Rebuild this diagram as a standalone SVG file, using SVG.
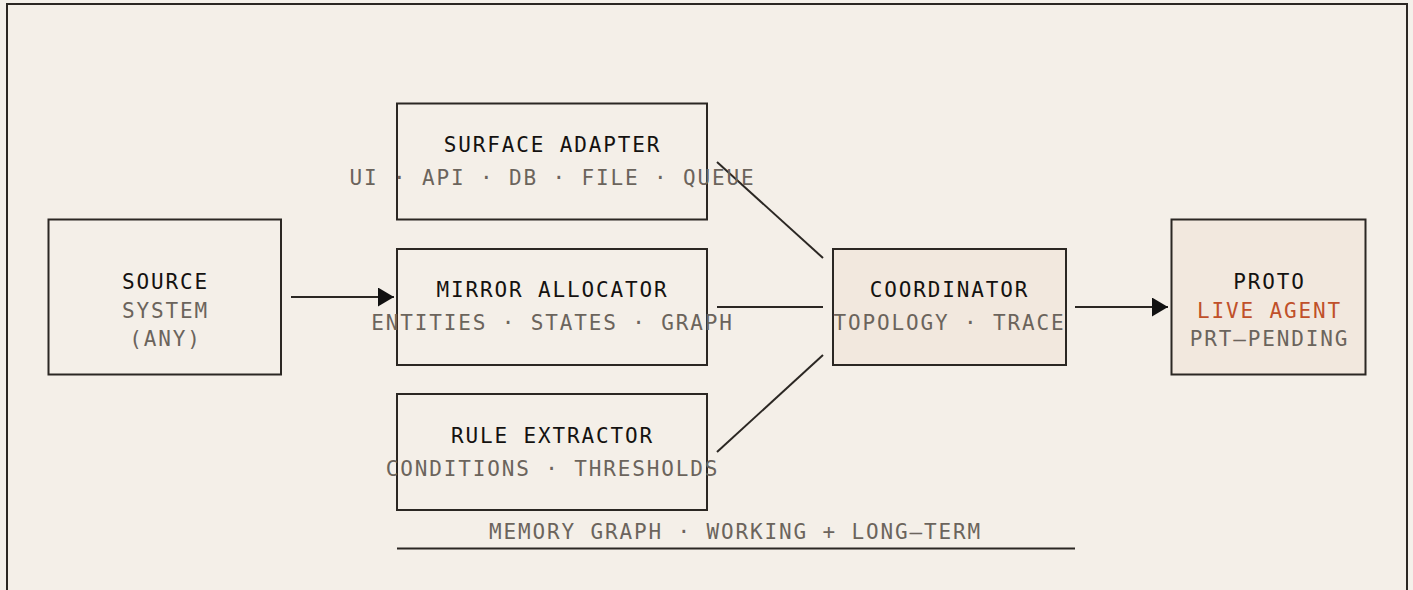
<svg xmlns="http://www.w3.org/2000/svg" width="1413" height="590" viewBox="0 0 1413 590">
<defs>
<style>
.box{fill:none;stroke:#2b2723;stroke-width:2}
.hl{fill:#f2e8de;stroke:#2b2723;stroke-width:2}
text{font-family:"DejaVu Sans Mono",monospace;font-size:21px;letter-spacing:1.85px;text-anchor:middle}
.t{fill:#141210}
.s{fill:#6b645c}
.o{fill:#c0502a}
.c{stroke:#2b2723;stroke-width:2;fill:none}
</style>
<marker id="ah" markerWidth="16" markerHeight="19" refX="16" refY="9.5" orient="auto" markerUnits="userSpaceOnUse">
<path d="M0,0 L16,9.5 L0,19 Z" fill="#111"/>
</marker>
</defs>
<rect x="0" y="0" width="1413" height="590" fill="#f4f0ea"/>
<rect x="7" y="4" width="1400" height="600" fill="#f4efe8" stroke="#2b2723" stroke-width="2"/>
<g id="connectors">
<line class="c" x1="291" y1="297" x2="394" y2="297" marker-end="url(#ah)"/>
<line class="c" x1="717" y1="162" x2="823" y2="258"/>
<line class="c" x1="717" y1="307" x2="823" y2="307"/>
<line class="c" x1="717" y1="452" x2="823" y2="355"/>
<line class="c" x1="1075" y1="307" x2="1168" y2="307" marker-end="url(#ah)"/>
</g>
<g id="source">
<rect class="box" x="48.5" y="219.5" width="232.5" height="155"/>
<text class="t" x="165.5" y="289">SOURCE</text>
<text class="s" x="165.5" y="318">SYSTEM</text>
<text class="s" x="165.5" y="346">(ANY)</text>
</g>
<g id="surface">
<rect class="box" x="397" y="103.5" width="310" height="116"/>
<text class="t" x="552.5" y="152">SURFACE ADAPTER</text>
<text class="s" x="552.5" y="185">UI · API · DB · FILE · QUEUE</text>
</g>
<g id="mirror">
<rect class="box" x="397" y="249" width="310" height="116"/>
<text class="t" x="552.5" y="297">MIRROR ALLOCATOR</text>
<text class="s" x="552.5" y="330">ENTITIES · STATES · GRAPH</text>
</g>
<g id="rule">
<rect class="box" x="397" y="394" width="310" height="116"/>
<text class="t" x="552.5" y="443">RULE EXTRACTOR</text>
<text class="s" x="552.5" y="476">CONDITIONS · THRESHOLDS</text>
</g>
<g id="memory">
<text class="s" x="735.5" y="539">MEMORY GRAPH · WORKING + LONG–TERM</text>
<line class="c" x1="397" y1="548.5" x2="1075" y2="548.5"/>
</g>
<g id="coordinator">
<rect class="hl" x="833" y="249" width="233" height="116"/>
<text class="t" x="949.5" y="297">COORDINATOR</text>
<text class="s" x="949.5" y="330">TOPOLOGY · TRACE</text>
</g>
<g id="proto">
<rect class="hl" x="1171.5" y="219.5" width="194" height="155"/>
<text class="t" x="1269.5" y="288.5">PROTO</text>
<text class="o" x="1269.5" y="317.5">LIVE AGENT</text>
<text class="s" x="1269.5" y="346">PRT–PENDING</text>
</g>
</svg>
